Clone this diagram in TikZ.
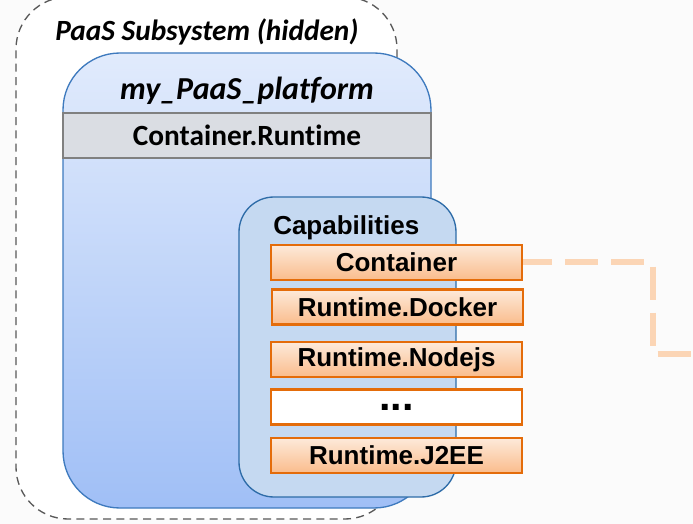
\documentclass[tikz,border=0pt]{standalone}
\usepackage{fontspec}
\setmainfont{Liberation Sans}
\newfontfamily\calfont[Ligatures=NoCommon]{Carlito}
\definecolor{pagebg}{RGB}{251,251,251}
\definecolor{dashgray}{RGB}{89,89,89}
\definecolor{platformtop}{RGB}{225,235,252}
\definecolor{platformbot}{RGB}{160,191,246}
\definecolor{platformline}{RGB}{62,122,190}
\definecolor{bandfill}{RGB}{218,221,227}
\definecolor{bandline}{RGB}{128,128,128}
\definecolor{capfill}{RGB}{197,217,241}
\definecolor{capline}{RGB}{46,108,168}
\definecolor{captop}{RGB}{253,234,218}
\definecolor{capbot}{RGB}{250,188,140}
\definecolor{capborder}{RGB}{228,108,10}
\definecolor{linkcol}{RGB}{251,213,181}
\begin{document}
\begin{tikzpicture}[x=0.75pt,y=-0.75pt,
  subsysbox/.style={draw=dashgray, fill=white, line width=1pt,
    dash pattern=on 6pt off 4pt, rounded corners=39pt, inner sep=0pt,
    minimum width=285.75pt, minimum height=391.5pt},
  platformbox/.style={draw=platformline, line width=1pt, rounded corners=42.75pt,
    top color=platformtop, bottom color=platformbot, inner sep=0pt,
    minimum width=276pt, minimum height=341.25pt},
  bandbox/.style={draw=bandline, line width=1.2pt, fill=bandfill, inner sep=0pt,
    minimum width=276pt, minimum height=33.75pt, font=\calfont\bfseries\fontsize{22}{26}\selectfont},
  capsbox/.style={draw=capline, line width=1pt, fill=capfill, rounded corners=26.25pt,
    inner sep=0pt, minimum width=162.75pt, minimum height=225pt},
  capitem/.style={draw=capborder, line width=1.6pt, top color=captop, bottom color=capbot,
    inner sep=0pt, minimum width=188.25pt, minimum height=26.25pt,
    font=\bfseries\fontsize{19.5}{22}\selectfont},
  emptyitem/.style={capitem, top color=white, bottom color=white,
    font=\bfseries\fontsize{31}{31}\selectfont},
  titletext/.style={inner sep=0pt, font=\calfont\bfseries\itshape\fontsize{#1}{#1}\selectfont},
  link/.style={draw=linkcol, line width=4.5pt, dash pattern=on 24.75pt off 9.75pt,
    dash phase=3pt}
]
\useasboundingbox[fill=pagebg] (0,0) rectangle (693,524);

% hidden subsystem frame
\node[subsysbox] (subsys) at (206.5,258) {};
\node[titletext=22, anchor=base west] (subsystitle) at (55,41) {PaaS Subsystem (hidden)};

% platform node with its type band
\node[platformbox] (platform) at (247,280.5) {};
\node[titletext=24, anchor=base] (platformtitle) at (247,100) {my\_PaaS\_platform};
\node[bandbox] (band) at (247,135.5) {Container.Runtime};

% capabilities list
\node[capsbox] (caps) at (347.5,347) {};
\node[inner sep=0pt, anchor=base west, font=\bfseries\fontsize{19.5}{22}\selectfont] (capstitle) at (273,234) {Capabilities};
\node[capitem] (container) at (396.5,262.5) {Container};
\node[capitem] (docker) at (397.5,307) {Runtime.Docker};
\node[capitem] (nodejs) at (396.5,359.5) {Runtime.Nodejs};
\node[emptyitem] (more) at (396.5,407) {...};
\node[capitem] (j2ee) at (396.5,455.5) {Runtime.J2EE};

% requirement link leaving the Container capability
\coordinate (bendA) at (653,262.5);
\coordinate (bendB) at (653,354);
\coordinate (linkend) at (693,354);
\draw[link] (container.east) -- (bendA) -- (bendB) -- (linkend);
\end{tikzpicture}
\end{document}
